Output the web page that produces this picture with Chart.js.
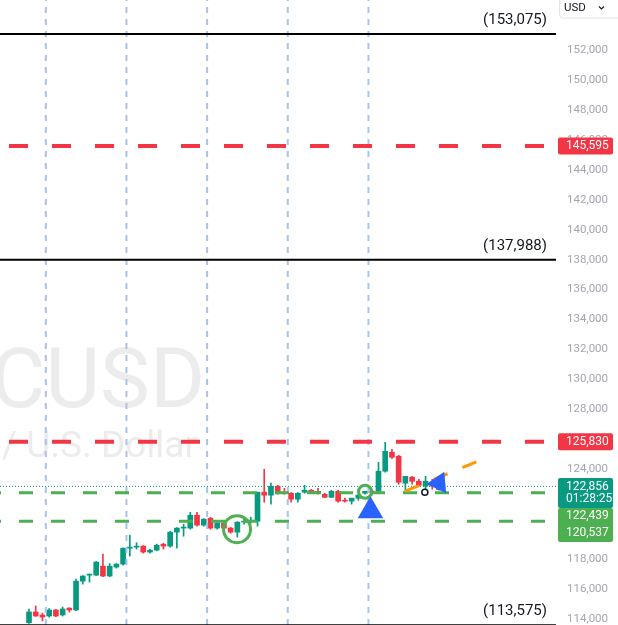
<!DOCTYPE html>
<html>
<head>
<meta charset="utf-8">
<script src="https://cdn.jsdelivr.net/npm/chart.js@4.4.1/dist/chart.umd.min.js"></script>
<style>
  html, body { margin: 0; padding: 0; background: #fff; overflow: hidden; }
  #wrap { width: 618px; height: 625px; }
</style>
</head>
<body>
<div id="wrap"><canvas id="myChart" width="618" height="625"></canvas></div>
<script>
// candles (one per bar, left to right)
const opens  = [113750,114470,114270,114200,114600,114270,114730,114600,116530,116930,116930,117530,116870,117470,117670,118730,118800,118870,118470,118600,119000,118870,119800,120070,120070,120930,120270,120730,120070,120400,120070,119800,120470,120530,120530,122470,122270,122870,122470,122400,122000,122470,122600,122530,122330,122130,122530,121930,121870,122070,122400,122530,122530,123870,125130,124870,123070,123470,123200,122870,123130,122650];
const highs  = [114670,114870,114400,114700,114650,114800,114750,116670,116900,117000,117850,118330,117700,117700,118750,119600,119100,118900,118650,119000,119050,119850,120100,120330,121130,121130,120700,120800,120450,120500,120130,120500,120670,120800,122470,124000,123070,122930,122730,122450,122450,122930,122650,122730,122400,122600,122600,122070,122070,122330,122530,122600,124470,125800,125330,124930,123530,123530,123330,123530,123330,122930];
const lows   = [113700,114180,113870,114130,114150,114200,114470,114550,116330,116470,116900,116830,116830,117400,117600,118200,118670,118400,118400,118550,118670,118800,118730,119530,120000,120200,120200,120000,120000,120000,119730,119470,120330,120400,120200,121800,121670,122330,122330,121800,121800,122400,122400,122330,122100,122100,121800,121800,121670,121930,122330,122270,122470,123800,124730,123000,122530,123000,122870,122670,122670,122600];
const closes = [114470,114200,114130,114600,114200,114670,114600,116530,116870,117000,117800,116870,117530,117670,118730,118800,118870,118470,118600,118930,118870,119800,120070,120130,120930,120270,120670,120070,120400,120070,119800,120470,120530,120600,122470,122270,122870,122470,122400,122000,122400,122600,122470,122400,122130,122530,121870,121870,122070,122270,122530,122470,123870,125200,124800,123130,123530,123200,122930,123200,122870,122856];

// drawn levels and marks
const blackLevels = [153075, 137988, 113575];
const redLevels = [145595, 125830];
const greenLevels = [122439, 120537];
const lastPrice = 122856;
const countdown = "01:28:25";
const vLineBars = [2.5, 14.5, 26.5, 38.5, 50.5];
const circleBars = [30.95, 50.0];
const circlePrices = [120000, 122500];
const arrowBars = [50.8, 61.0];
const arrowPrices = [121220, 123084];
const trendBars = [55.95, 66.8];
const trendPrices = [122533, 124533];
const dotBars = [58.9];
const dotPrices = [122467];
const yTicks = [114000,116000,118000,120000,122000,124000,126000,128000,130000,132000,134000,136000,138000,140000,142000,144000,146000,148000,150000,152000];
const symbolText = "BTCUSD";
const descText = "Bitcoin / U.S. Dollar";

const X_MIN = -4.315, X_MAX = 78.41;
const Y_MIN = 113600, Y_MAX = 155339;

const UP = "#089981", DOWN = "#f23645", GREEN = "#4caf50", BLUE_V = "#a3c3f5";
const FONT = "Roboto, 'Liberation Sans', sans-serif";

const fmt = (v) => v.toLocaleString("en-US");
const colors = opens.map((o, i) => (closes[i] >= o ? UP : DOWN));

function hLine(v, color, width, dash, offset, order) {
  return {
    type: "line",
    data: [{ x: X_MIN, y: v }, { x: X_MAX, y: v }],
    borderColor: color,
    borderWidth: width,
    borderDash: dash,
    borderDashOffset: offset,
    pointRadius: 0,
    fill: false,
    order: order,
  };
}

const datasets = [];
datasets.push({
  type: "bar",
  data: opens.map((o, i) => ({ x: i, y: [lows[i], highs[i]] })),
  backgroundColor: colors,
  barThickness: 1,
  grouped: false,
  order: 30,
});
datasets.push({
  type: "bar",
  data: opens.map((o, i) => ({ x: i, y: [Math.min(o, closes[i]), Math.max(o, closes[i])] })),
  backgroundColor: colors,
  barThickness: 5,
  minBarLength: 1,
  grouped: false,
  order: 29,
});
vLineBars.forEach((b) => {
  datasets.push({
    type: "line",
    data: [{ x: b, y: Y_MIN }, { x: b, y: Y_MAX }],
    borderColor: BLUE_V,
    borderWidth: 2,
    borderDash: [6, 6],
    pointRadius: 0,
    order: 20,
  });
});
blackLevels.forEach((v) => datasets.push(hLine(v, "#000000", 2, [], 0, 10)));
redLevels.forEach((v) => datasets.push(hLine(v, DOWN, 4, [19, 24], 34, 9)));
greenLevels.forEach((v) => datasets.push(hLine(v, GREEN, 3, [14, 18], 13, 8)));
datasets.push(hLine(lastPrice, UP, 1, [1, 2], 0, 7));
datasets.push({
  type: "line",
  data: trendBars.map((b, i) => ({ x: b, y: trendPrices[i] })),
  borderColor: "#ff9800",
  borderWidth: 3,
  borderDash: [15, 16],
  pointRadius: 0,
  order: 5,
});
datasets.push({
  type: "line",
  showLine: false,
  data: circleBars.map((b, i) => ({ x: b, y: circlePrices[i] })),
  pointStyle: "circle",
  pointRadius: [13.5, 6.5],
  pointBorderWidth: 3,
  pointBorderColor: GREEN,
  pointBackgroundColor: "rgba(0,0,0,0)",
  order: 4,
});
datasets.push({
  type: "line",
  showLine: false,
  data: arrowBars.map((b, i) => ({ x: b, y: arrowPrices[i] })),
  pointStyle: "triangle",
  pointRadius: [14.7, 12.5],
  pointRotation: [0, 25],
  pointBorderWidth: 0,
  pointBackgroundColor: "#2962ff",
  order: 3,
});
datasets.push({
  type: "line",
  showLine: false,
  data: dotBars.map((b, i) => ({ x: b, y: dotPrices[i] })),
  pointStyle: "circle",
  pointRadius: 3,
  pointBorderWidth: 1.5,
  pointBorderColor: "#131722",
  pointBackgroundColor: "#ffffff",
  order: 2,
});

function tag(ctx, x, y, w, h, color) {
  ctx.fillStyle = color;
  ctx.beginPath();
  ctx.roundRect(x, y, w, h, 2);
  ctx.fill();
}

const decor = {
  id: "decor",
  beforeDatasetsDraw(chart) {
    const ctx = chart.ctx;
    ctx.save();
    ctx.fillStyle = "#ececec";
    ctx.textAlign = "right";
    ctx.textBaseline = "alphabetic";
    ctx.font = "84px " + FONT;
    ctx.fillText(symbolText, 205, 407);
    ctx.font = "37px " + FONT;
    ctx.fillText(descText, 197, 457);
    ctx.restore();
  },
  afterDatasetsDraw(chart) {
    const ctx = chart.ctx;
    const ys = chart.scales.y;
    const right = chart.chartArea.right;
    ctx.save();
    ctx.fillStyle = "#131722";
    ctx.font = "15px " + FONT;
    ctx.textAlign = "right";
    ctx.textBaseline = "alphabetic";
    blackLevels.forEach((v) => {
      ctx.fillText("(" + fmt(v) + ")", right - 9, ys.getPixelForValue(v) - 10);
    });
    ctx.restore();
  },
  afterDraw(chart) {
    const ctx = chart.ctx;
    const ys = chart.scales.y;
    const left = chart.chartArea.right + 2;
    const w = 55;
    ctx.save();
    ctx.font = "12px " + FONT;
    ctx.textAlign = "left";
    ctx.textBaseline = "middle";
    redLevels.forEach((v) => {
      const y = ys.getPixelForValue(v);
      tag(ctx, left, y - 8.5, w, 17, DOWN);
      ctx.fillStyle = "#ffffff";
      ctx.fillText(fmt(v), left + 8, y + 0.5);
    });
    const y0 = ys.getPixelForValue(lastPrice);
    tag(ctx, left, y0 - 8.5, w, 30, UP);
    ctx.fillStyle = "#ffffff";
    ctx.fillText(fmt(lastPrice), left + 8, y0 + 0.5);
    ctx.fillText(countdown, left + 8, y0 + 13);
    const gTop = y0 + 21.5;
    tag(ctx, left, gTop, w, 34, GREEN);
    ctx.fillStyle = "#ffffff";
    greenLevels.forEach((v, i) => {
      ctx.fillText(fmt(v), left + 8, gTop + 8.5 + i * 17);
    });
    // currency box
    ctx.strokeStyle = "#e0e3eb";
    ctx.lineWidth = 1;
    ctx.fillStyle = "#ffffff";
    ctx.beginPath();
    ctx.roundRect(559.5, -5, 64, 23, 4);
    ctx.fill();
    ctx.stroke();
    ctx.fillStyle = "#131722";
    ctx.font = "11.5px " + FONT;
    ctx.fillText("USD", 564, 8);
    ctx.strokeStyle = "#131722";
    ctx.lineWidth = 1.2;
    ctx.beginPath();
    ctx.moveTo(599, 6.5);
    ctx.lineTo(601.5, 9);
    ctx.lineTo(604, 6.5);
    ctx.stroke();
    ctx.restore();
  },
};

const ctx = document.getElementById("myChart").getContext("2d");
const myChart = new Chart(ctx, {
  type: "bar",
  data: { datasets: datasets },
  options: {
    responsive: false,
    animation: false,
    layout: { padding: 0, autoPadding: false },
    plugins: { legend: { display: false }, tooltip: { enabled: false } },
    scales: {
      x: { type: "linear", min: X_MIN, max: X_MAX, display: false, offset: false },
      y: {
        type: "linear",
        position: "right",
        min: Y_MIN,
        max: Y_MAX,
        offset: false,
        grid: { display: false, drawTicks: false },
        border: { display: false },
        afterBuildTicks: (s) => { s.ticks = yTicks.map((v) => ({ value: v })); },
        afterFit: (s) => { s.width = 62; s.paddingTop = 0; s.paddingBottom = 0; },
        ticks: {
          padding: 11,
          color: "#a3a6af",
          font: { family: FONT, size: 11.5 },
          callback: (v) => fmt(v),
        },
      },
    },
  },
  plugins: [decor],
});
</script>
</body>
</html>
